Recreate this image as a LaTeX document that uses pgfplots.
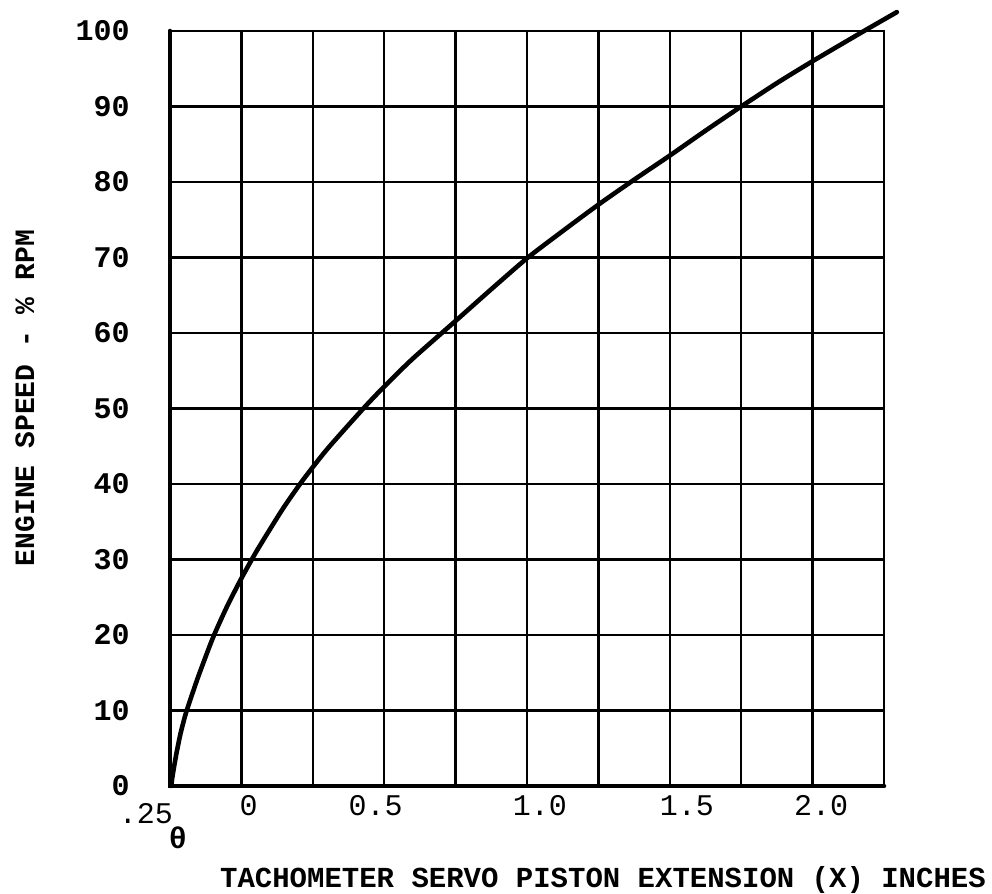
\documentclass[border=0pt]{standalone}
\usepackage{fontspec}
\setmainfont{Liberation Mono}
\usepackage{pgfplots}
\pgfplotsset{compat=1.18}
\begin{document}
\begin{tikzpicture}
\begin{axis}[
  scale only axis,
  width=357pt, height=377.5pt,
  xmin=-0.25, xmax=2.25, ymin=0, ymax=100,
  clip=false,
  /pgf/number format/assume math mode=true,
  axis line style={line width=1.2pt},
  xtick={0.025,0.47,1.045,1.56,2.03},
  xticklabels={0,0.5,1.0,1.5,2.0},
  minor xtick={0,0.25,0.5,0.75,1.0,1.25,1.5,1.75,2.0},
  ytick={0,10,...,100},
  major tick length=0pt, minor tick length=0pt,
  xminorgrids=true, xmajorgrids=false, ymajorgrids=true,
  minor grid style={black, line width=1.2pt},
  major grid style={black, line width=1.2pt},
  xticklabel style={font=\fontsize{15}{17}\selectfont, inner sep=0pt, anchor=north, yshift=-4.5pt},
  yticklabel style={font=\bfseries\fontsize{15}{17}\selectfont, inner sep=0pt, anchor=east, xshift=-20pt},
]
\addplot[black, line width=2.3pt, smooth, tension=0.4, line cap=round] coordinates {
(-0.246,0) (-0.24,1.6) (-0.228,4.2) (-0.214,6.8) (-0.197,9.3) (-0.18,11.3)
(-0.15,14.6) (-0.1,19.6) (-0.05,23.8) (0,27.5) (0.05,30.9) (0.1,34) (0.15,37)
(0.215,40.5) (0.3,44.6) (0.427,50) (0.5,52.9) (0.6,56.6) (0.75,61.6) (0.875,65.8)
(1.0,69.9) (1.125,73.5) (1.25,77) (1.375,80.3) (1.5,83.5) (1.625,86.8) (1.75,90)
(1.875,93.1) (2.0,96) (2.18,100) (2.295,102.5)
};
\draw[line width=2.3pt, line cap=round] (rel axis cs:0,1) -- (rel axis cs:0,0) -- (rel axis cs:1,0);
\end{axis}
\node[font=\fontsize{15}{17}\selectfont, inner sep=0pt] at ([xshift=-12pt,yshift=-14pt]current axis.south west) {.25};
\node[font=\bfseries\fontsize{15}{17}\selectfont, inner sep=0pt] at ([xshift=4pt,yshift=-26pt]current axis.south west) {θ};
\node[rotate=90, font=\bfseries\fontsize{14}{16}\selectfont, inner sep=0pt] at ([xshift=-72.5pt,yshift=5.25pt]current axis.west) {ENGINE SPEED - \% RPM};
\node[font=\bfseries\fontsize{14.5}{16}\selectfont, inner sep=0pt] at ([xshift=38pt,yshift=-47pt]current axis.south) {TACHOMETER SERVO PISTON EXTENSION (X) INCHES};
\pgfresetboundingbox
\path[use as bounding box] ([xshift=-85pt,yshift=-54pt]current axis.south west) rectangle ([xshift=411pt,yshift=393pt]current axis.south west);
\end{tikzpicture}
\end{document}
